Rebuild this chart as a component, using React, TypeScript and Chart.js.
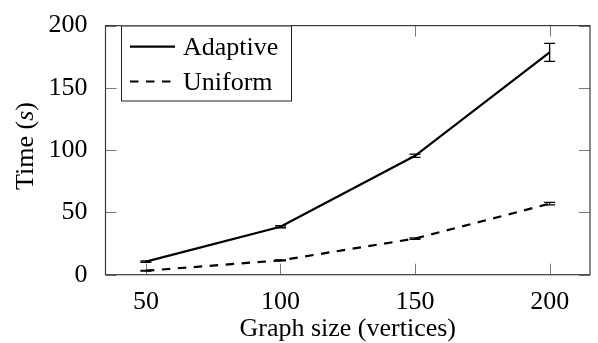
import React, { useEffect, useRef } from "react";
import { Chart, registerables } from "chart.js";

Chart.register(...registerables);

const xValues = [50, 100, 150, 200];
const adaptive = [10.5, 38.5, 95.5, 178.5];
const adaptiveErr = [0.6, 0.8, 1.3, 7.3];
const uniform = [3.2, 11.5, 29, 57];
const uniformErr = [0.3, 0.4, 0.6, 1.0];
const xTicks = [50, 100, 150, 200];
const yTicks = [0, 50, 100, 150, 200];
const seriesLabels = ["Adaptive", "Uniform"];
const xTitle = "Graph size (vertices)";
const yTitleParts = ["Time (", "s", ")"];

const FONT = '"Liberation Serif", "Times New Roman", serif';
const DASH = [8.5, 7.5];

const errs = [adaptiveErr, uniformErr];

const framePlugin = {
  id: "frame",
  beforeDatasetsDraw(chart: any) {
    const { ctx, chartArea: a, scales } = chart;
    ctx.save();
    ctx.strokeStyle = "#7a7a7a";
    ctx.lineWidth = 1;
    const tl = 11;
    ctx.beginPath();
    xTicks.forEach((v) => {
      const px = Math.round(scales.x.getPixelForValue(v)) + 0.5;
      ctx.moveTo(px, a.bottom);
      ctx.lineTo(px, a.bottom - tl);
      ctx.moveTo(px, a.top);
      ctx.lineTo(px, a.top + tl);
    });
    yTicks.forEach((v) => {
      const py = Math.round(scales.y.getPixelForValue(v)) + 0.5;
      ctx.moveTo(a.left, py);
      ctx.lineTo(a.left + tl, py);
      ctx.moveTo(a.right, py);
      ctx.lineTo(a.right - tl, py);
    });
    ctx.stroke();
    ctx.restore();
  },
  afterDatasetsDraw(chart: any) {
    const { ctx, chartArea: a, scales } = chart;
    ctx.save();
    // error bars
    ctx.strokeStyle = "#000";
    ctx.lineWidth = 1.3;
    chart.data.datasets.forEach((ds: any, di: number) => {
      ds.data.forEach((p: any, i: number) => {
        const e = errs[di][i];
        const px = scales.x.getPixelForValue(p.x);
        const y1 = scales.y.getPixelForValue(p.y + e);
        const y2 = scales.y.getPixelForValue(p.y - e);
        ctx.beginPath();
        ctx.moveTo(px, y1);
        ctx.lineTo(px, y2);
        ctx.moveTo(px - 5.5, y1);
        ctx.lineTo(px + 5.5, y1);
        ctx.moveTo(px - 5.5, y2);
        ctx.lineTo(px + 5.5, y2);
        ctx.stroke();
      });
    });
    // axis box
    ctx.strokeStyle = "#3a3a3a";
    ctx.lineWidth = 1.2;
    ctx.strokeRect(a.left, a.top, a.right - a.left, a.bottom - a.top);
    ctx.restore();
  },
  afterDraw(chart: any) {
    const { ctx, chartArea: a } = chart;
    ctx.save();
    // legend
    const lx = 121, ly = 25.5, lw = 170, lh = 75;
    ctx.fillStyle = "#fff";
    ctx.fillRect(lx, ly, lw, lh);
    ctx.strokeStyle = "#222";
    ctx.lineWidth = 1;
    ctx.strokeRect(lx + 0.5, ly + 0.5, lw, lh);
    const rows = [46.7, 81.5];
    chart.data.datasets.forEach((ds: any, i: number) => {
      const y = rows[i];
      ctx.strokeStyle = "#000";
      ctx.lineWidth = 2.2;
      ctx.setLineDash(ds.borderDash || []);
      ctx.beginPath();
      ctx.moveTo(130, y);
      ctx.lineTo(175, y);
      ctx.stroke();
      ctx.setLineDash([]);
      ctx.fillStyle = "#000";
      ctx.font = `26px ${FONT}`;
      ctx.textAlign = "left";
      ctx.textBaseline = "alphabetic";
      ctx.fillText(ds.label, 183, y + 8.5);
    });
    // x title
    ctx.fillStyle = "#000";
    ctx.font = `26px ${FONT}`;
    ctx.textAlign = "center";
    ctx.textBaseline = "alphabetic";
    ctx.fillText(xTitle, (a.left + a.right) / 2, 336);
    // y title (rotated, italic s)
    ctx.save();
    ctx.translate(33, 146);
    ctx.rotate(-Math.PI / 2);
    const fonts = [`26px ${FONT}`, `italic 26px ${FONT}`, `26px ${FONT}`];
    let total = 0;
    const widths = yTitleParts.map((t, i) => {
      ctx.font = fonts[i];
      const w = ctx.measureText(t).width;
      total += w;
      return w;
    });
    let cx = -total / 2;
    ctx.textAlign = "left";
    yTitleParts.forEach((t, i) => {
      ctx.font = fonts[i];
      ctx.fillText(t, cx, 0);
      cx += widths[i];
    });
    ctx.restore();
    ctx.restore();
  },
};

export default function App() {
  const ref = useRef<HTMLCanvasElement>(null);
  useEffect(() => {
    if (!ref.current) return;
    const tickFont = { family: FONT, size: 26 };
    const chart = new Chart(ref.current, {
      type: "line",
      data: {
        datasets: [
          {
            label: seriesLabels[0],
            data: xValues.map((x, i) => ({ x, y: adaptive[i] })),
            borderColor: "#000",
            borderWidth: 2.2,
            pointRadius: 0,
            fill: false,
            tension: 0,
          },
          {
            label: seriesLabels[1],
            data: xValues.map((x, i) => ({ x, y: uniform[i] })),
            borderColor: "#000",
            borderWidth: 2.2,
            borderDash: DASH,
            pointRadius: 0,
            fill: false,
            tension: 0,
          },
        ],
      },
      options: {
        responsive: false,
        animation: false,
        devicePixelRatio: 1,
        layout: { padding: { top: 16, right: 8, left: 0, bottom: 0 } },
        plugins: { legend: { display: false }, tooltip: { enabled: false } },
        scales: {
          x: {
            type: "linear",
            min: 35,
            max: 215,
            afterBuildTicks: (s: any) => {
              s.ticks = xTicks.map((v) => ({ value: v }));
            },
            afterFit: (s: any) => {
              s.height = 68.3;
            },
            grid: { display: false },
            border: { display: false },
            ticks: { font: tickFont, color: "#000", padding: 4, maxRotation: 0, autoSkip: false },
          },
          y: {
            type: "linear",
            min: 0,
            max: 200,
            afterBuildTicks: (s: any) => {
              s.ticks = yTicks.map((v) => ({ value: v }));
            },
            afterFit: (s: any) => {
              s.width = 105.5;
            },
            grid: { display: false },
            border: { display: false },
            ticks: { font: tickFont, color: "#000", padding: 10, autoSkip: false },
          },
        },
      } as any,
      plugins: [framePlugin],
    });
    return () => chart.destroy();
  }, []);
  return (
    <div style={{ position: "absolute", left: 0, top: 0, width: 598, height: 343, background: "#fff" }}>
      <canvas ref={ref} width={598} height={343} style={{ display: "block" }} />
    </div>
  );
}
